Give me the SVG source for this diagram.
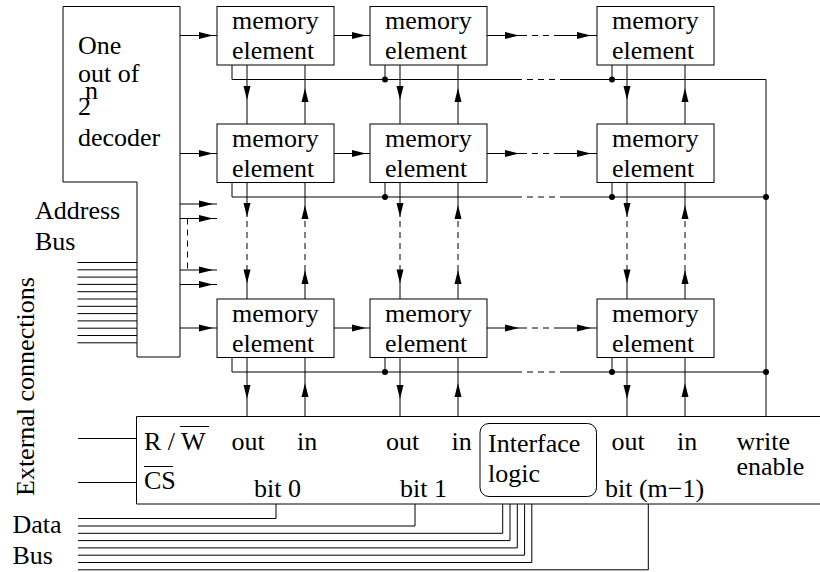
<svg xmlns="http://www.w3.org/2000/svg" xmlns:xlink="http://www.w3.org/1999/xlink" width="820" height="572" viewBox="0 0 820 572" font-family="'Liberation Serif', 'Times New Roman', 'DejaVu Serif', serif">
<style>
.t{font-family:'Liberation Serif','Times New Roman','DejaVu Serif',serif;font-size:26px;fill:#000}
.ln{fill:none;stroke:#000;stroke-width:1}
.d{fill:none;stroke:#000;stroke-width:1;stroke-dasharray:6 5}
.bx{fill:#fff;stroke:#000;stroke-width:1}
.dot{fill:#000}
.ah{fill:#000}
</style>
<defs>
<path id="ah" class="ah" d="M0,0 L-14,-3.5 L-14,3.5 Z"/>
</defs>
<rect width="820" height="572" fill="#fff"/>

<g id="connectors">
<path class="ln" d="M180,35.5H217M180,153.5H217M180,328H217M180,204H217M180,218.5H217M180,270H217M180,284.5H217"/>
<path class="d" d="M187.5,218.5V270"/>
<use xlink:href="#ah" x="213" y="35.5"/><use xlink:href="#ah" x="213" y="153.5"/><use xlink:href="#ah" x="213" y="328"/>
<use xlink:href="#ah" x="213" y="204"/><use xlink:href="#ah" x="213" y="218.5"/><use xlink:href="#ah" x="213" y="270"/><use xlink:href="#ah" x="213" y="284.5"/>
<path class="ln" d="M334,35.5H370M487,35.5H527M560,35.5H597M334,153.5H370M487,153.5H527M560,153.5H597M334,328H370M487,328H527M560,328H597"/>
<path class="d" d="M532,35.5H560M532,153.5H560M532,328H560"/>
<use xlink:href="#ah" x="366" y="35.5"/><use xlink:href="#ah" x="519" y="35.5"/><use xlink:href="#ah" x="591" y="35.5"/>
<use xlink:href="#ah" x="366" y="153.5"/><use xlink:href="#ah" x="519" y="153.5"/><use xlink:href="#ah" x="591" y="153.5"/>
<use xlink:href="#ah" x="366" y="328"/><use xlink:href="#ah" x="519" y="328"/><use xlink:href="#ah" x="591" y="328"/>
<path class="ln" d="M232,65V79.5H522M563,79.5H766V416.5M232,182.5V197H522M563,197H766M232,357.5V372H522M563,372H766M385,65V79.5M612,65V79.5M385,182.5V197M612,182.5V197M385,357.5V372M612,357.5V372"/>
<path class="d" d="M527,79.5H563M527,197H563M527,372H563"/>
<circle class="dot" cx="385" cy="79.5" r="3"/><circle class="dot" cx="612" cy="79.5" r="3"/>
<circle class="dot" cx="385" cy="197" r="3"/><circle class="dot" cx="612" cy="197" r="3"/><circle class="dot" cx="766" cy="197" r="3"/>
<circle class="dot" cx="385" cy="372" r="3"/><circle class="dot" cx="612" cy="372" r="3"/><circle class="dot" cx="766" cy="372" r="3"/>
<path class="ln" d="M247,65V124M305,65V124M400,65V124M458,65V124M627,65V124M685,65V124"/>
<use xlink:href="#ah" transform="translate(247,100) rotate(90)"/><use xlink:href="#ah" transform="translate(400,100) rotate(90)"/><use xlink:href="#ah" transform="translate(627,100) rotate(90)"/>
<use xlink:href="#ah" transform="translate(305,88) rotate(-90)"/><use xlink:href="#ah" transform="translate(458,88) rotate(-90)"/><use xlink:href="#ah" transform="translate(685,88) rotate(-90)"/>
<path class="ln" d="M247,182.5V217M247,270V299M305,182.5V217M305,270V299M400,182.5V217M400,270V299M458,182.5V217M458,270V299M627,182.5V217M627,270V299M685,182.5V217M685,270V299"/>
<path class="d" d="M247,221V270M305,221V270M400,221V270M458,221V270M627,221V270M685,221V270"/>
<use xlink:href="#ah" transform="translate(247,217) rotate(90)"/><use xlink:href="#ah" transform="translate(247,283.5) rotate(90)"/>
<use xlink:href="#ah" transform="translate(400,217) rotate(90)"/><use xlink:href="#ah" transform="translate(400,283.5) rotate(90)"/>
<use xlink:href="#ah" transform="translate(627,217) rotate(90)"/><use xlink:href="#ah" transform="translate(627,283.5) rotate(90)"/>
<use xlink:href="#ah" transform="translate(305,205) rotate(-90)"/><use xlink:href="#ah" transform="translate(305,270) rotate(-90)"/>
<use xlink:href="#ah" transform="translate(458,205) rotate(-90)"/><use xlink:href="#ah" transform="translate(458,270) rotate(-90)"/>
<use xlink:href="#ah" transform="translate(685,205) rotate(-90)"/><use xlink:href="#ah" transform="translate(685,270) rotate(-90)"/>
<path class="ln" d="M247,357.5V416.5M305,357.5V416.5M400,357.5V416.5M458,357.5V416.5M627,357.5V416.5M685,357.5V416.5"/>
<use xlink:href="#ah" transform="translate(247,399) rotate(90)"/><use xlink:href="#ah" transform="translate(400,399) rotate(90)"/><use xlink:href="#ah" transform="translate(627,399) rotate(90)"/>
<use xlink:href="#ah" transform="translate(305,383) rotate(-90)"/><use xlink:href="#ah" transform="translate(458,383) rotate(-90)"/><use xlink:href="#ah" transform="translate(685,383) rotate(-90)"/>
<path class="ln" d="M77.5,262.5H137M77.5,269.8H137M77.5,277.1H137M77.5,284.4H137M77.5,291.7H137M77.5,299H137M77.5,306.3H137M77.5,313.6H137M77.5,320.9H137M77.5,328.2H137M77.5,335.5H137M77.5,342.8H137"/>
<path class="ln" d="M78,438.5H136.5M78,482.5H136.5"/>
<path class="ln" d="M78,518.5H276V504M78,526H415V504M78,533.3H502.7V504M78,540.6H510V504M78,547.9H517.3V504M78,555.2H524.6V504M78,562.5H531.8V504M78,569.8H648.3V504"/>
</g>

<g id="decoder">
<path class="bx" d="M63,6.5H180V357H137V182H63Z"/>
<text class="t" x="78" y="54">One</text>
<text class="t" x="78" y="82">out of</text>
<text class="t" x="78" y="115">2<tspan dx="-6" dy="-16">n</tspan></text>
<text class="t" x="78" y="145.5">decoder</text>
</g>

<g id="mem-r1c1"><rect class="bx" x="217" y="6.5" width="117" height="58.5"/><text class="t" x="232" y="29">memory</text><text class="t" x="232" y="59">element</text></g>
<g id="mem-r1c2"><rect class="bx" x="370" y="6.5" width="117" height="58.5"/><text class="t" x="385" y="29">memory</text><text class="t" x="385" y="59">element</text></g>
<g id="mem-r1c3"><rect class="bx" x="597" y="6.5" width="117" height="58.5"/><text class="t" x="612" y="29">memory</text><text class="t" x="612" y="59">element</text></g>
<g id="mem-r2c1"><rect class="bx" x="217" y="124" width="117" height="58.5"/><text class="t" x="232" y="146.5">memory</text><text class="t" x="232" y="176.5">element</text></g>
<g id="mem-r2c2"><rect class="bx" x="370" y="124" width="117" height="58.5"/><text class="t" x="385" y="146.5">memory</text><text class="t" x="385" y="176.5">element</text></g>
<g id="mem-r2c3"><rect class="bx" x="597" y="124" width="117" height="58.5"/><text class="t" x="612" y="146.5">memory</text><text class="t" x="612" y="176.5">element</text></g>
<g id="mem-r3c1"><rect class="bx" x="217" y="299" width="117" height="58.5"/><text class="t" x="232" y="321.5">memory</text><text class="t" x="232" y="351.5">element</text></g>
<g id="mem-r3c2"><rect class="bx" x="370" y="299" width="117" height="58.5"/><text class="t" x="385" y="321.5">memory</text><text class="t" x="385" y="351.5">element</text></g>
<g id="mem-r3c3"><rect class="bx" x="597" y="299" width="117" height="58.5"/><text class="t" x="612" y="321.5">memory</text><text class="t" x="612" y="351.5">element</text></g>

<g id="interface">
<path class="ln" d="M825,416.5H136.5V504H825"/>
<text class="t" x="144" y="449.5">R / W</text>
<line class="ln" x1="180" y1="426.5" x2="209" y2="426.5"/>
<text class="t" x="144" y="488.5">CS</text>
<line class="ln" x1="144" y1="466.5" x2="173" y2="466.5"/>
<text class="t" x="231.5" y="449.5">out</text>
<text class="t" x="297" y="449.5">in</text>
<text class="t" x="386" y="449.5">out</text>
<text class="t" x="451.5" y="449.5">in</text>
<text class="t" x="611.5" y="449.5">out</text>
<text class="t" x="677" y="449.5">in</text>
<text class="t" x="736.5" y="449.5">write</text>
<text class="t" x="736.5" y="475">enable</text>
<text class="t" x="254" y="496.5">bit 0</text>
<text class="t" x="400" y="496.5">bit 1</text>
<text class="t" x="605" y="496.5">bit (m−1)</text>
</g>

<g id="interface-logic">
<rect class="ln" x="480" y="423.5" width="116.5" height="73" rx="9"/>
<text class="t" x="488" y="451.5">Interface</text>
<text class="t" x="488" y="481.5">logic</text>
</g>

<g id="labels">
<text class="t" x="35" y="218.5">Address</text>
<text class="t" x="35" y="249.5">Bus</text>
<text class="t" x="12.5" y="532.5">Data</text>
<text class="t" x="12.5" y="563.5">Bus</text>
<text class="t" transform="translate(33.5,496) rotate(-90)">External connections</text>
</g>
</svg>
